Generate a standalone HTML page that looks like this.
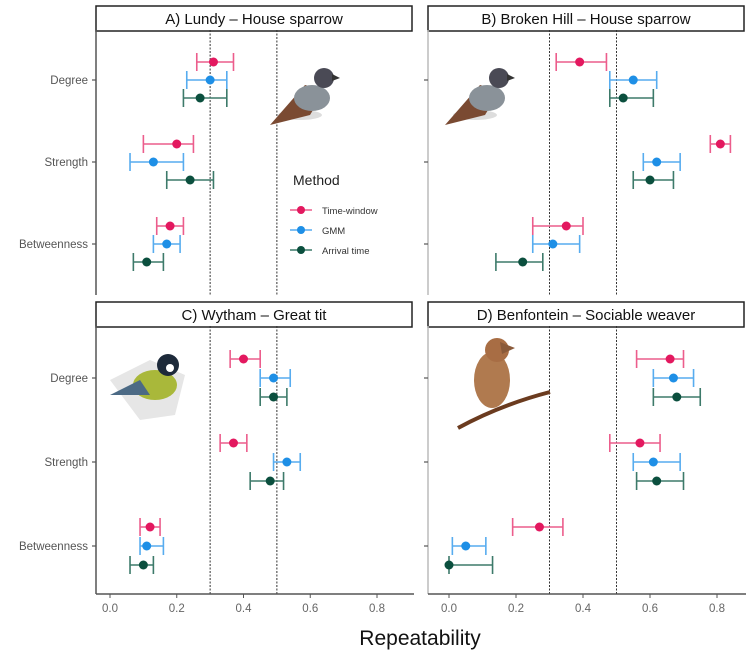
<!DOCTYPE html>
<html><head><meta charset="utf-8"><style>
body{margin:0;background:#fff;}
svg{display:block;font-family:"Liberation Sans",sans-serif;}
</style></head><body>
<svg id="chart" width="749" height="654"></svg>
<script>
const categories = ["Degree","Strength","Betweenness"];
const methods = ["Time-window","GMM","Arrival time"];
const panelTitles = ["A) Lundy \u2013 House sparrow","B) Broken Hill \u2013 House sparrow","C) Wytham \u2013 Great tit","D) Benfontein \u2013 Sociable weaver"];
const xTicks = [0,0.2,0.4,0.6,0.8];
const refLines = [0.3,0.5];
// per panel: [category][method] = [est, lo, hi]
const panelA = [[[0.31,0.26,0.37],[0.30,0.23,0.35],[0.27,0.22,0.35]],
                [[0.20,0.10,0.25],[0.13,0.06,0.22],[0.24,0.17,0.31]],
                [[0.18,0.14,0.22],[0.17,0.13,0.21],[0.11,0.07,0.16]]];
const panelB = [[[0.39,0.32,0.47],[0.55,0.48,0.62],[0.52,0.48,0.61]],
                [[0.81,0.78,0.84],[0.62,0.58,0.69],[0.60,0.55,0.67]],
                [[0.35,0.25,0.40],[0.31,0.25,0.39],[0.22,0.14,0.28]]];
const panelC = [[[0.40,0.36,0.45],[0.49,0.45,0.54],[0.49,0.45,0.53]],
                [[0.37,0.33,0.41],[0.53,0.49,0.57],[0.48,0.42,0.52]],
                [[0.12,0.09,0.15],[0.11,0.09,0.16],[0.10,0.06,0.13]]];
const panelD = [[[0.66,0.56,0.70],[0.67,0.61,0.73],[0.68,0.61,0.75]],
                [[0.57,0.48,0.63],[0.61,0.55,0.69],[0.62,0.56,0.70]],
                [[0.27,0.19,0.34],[0.05,0.01,0.11],[0.00,0.00,0.13]]];
const panelsData = [panelA,panelB,panelC,panelD];

const NS="http://www.w3.org/2000/svg";
const svg=document.getElementById('chart');
function mk(tag,attrs,parent){const e=document.createElementNS(NS,tag);for(const k in attrs)e.setAttribute(k,attrs[k]);(parent||svg).appendChild(e);return e;}
const ptCol=["#e3185f","#1e8fe6","#0b4f3e"];
const barCol=["#ec5d8c","#57acef","#3d7a6a"];
const layout=[
 {x0:110,x1:377,axisX:96,top:30,bottom:295,strip:[96,6,316,25],cy:[80,162,244],off:18,xaxis:false},
 {x0:449,x1:717,axisX:428,top:30,bottom:295,strip:[428,6,316,25],cy:[80,162,244],off:18,xaxis:false},
 {x0:110,x1:377,axisX:96,top:326,bottom:594,strip:[96,302,316,25],cy:[378,462,546],off:19,xaxis:true},
 {x0:449,x1:717,axisX:428,top:326,bottom:594,strip:[428,302,316,25],cy:[378,462,546],off:19,xaxis:true}];
const pnames=["panel-a","panel-b","panel-c","panel-d"];
layout.forEach((L,pi)=>{
  const g=mk('g',{});
  
  
  const xs=v=>L.x0+(L.x1-L.x0)*v/0.8;
  const s=L.strip;
  const st=mk('rect',{x:s[0],y:s[1],width:s[2],height:s[3],fill:'#fff',stroke:'#222','stroke-width':1.5},g);
  
  
  const tt=mk('text',{x:s[0]+s[2]/2,y:s[1]+18,'text-anchor':'middle','font-size':15,fill:'#111'},g);
  tt.textContent=panelTitles[pi];
  
  
  const ya=mk('line',{x1:L.axisX,x2:L.axisX,y1:L.top,y2:L.bottom,stroke:pi%2?'#bbb':'#555','stroke-width':1.5},g);
  
  
  categories.forEach((c,ci)=>{
    mk('line',{x1:L.axisX-4,x2:L.axisX,y1:L.cy[ci],y2:L.cy[ci],stroke:'#555','stroke-width':1.2},g);
    if(pi%2==0){const t=mk('text',{x:L.axisX-8,y:L.cy[ci]+4,'text-anchor':'end','font-size':11.5,fill:'#555'},g);t.textContent=c;
      
      }
  });
  refLines.forEach(r=>{const l=mk('line',{x1:xs(r),x2:xs(r),y1:L.top,y2:L.bottom,stroke:'#333','stroke-width':1,'stroke-dasharray':'2,1.5'},g);
    
    });
  if(L.xaxis){
    const xa=mk('line',{x1:L.axisX,x2:L.axisX+318,y1:L.bottom,y2:L.bottom,stroke:'#555','stroke-width':1.5},g);
    
    
    xTicks.forEach(v=>{mk('line',{x1:xs(v),x2:xs(v),y1:L.bottom,y2:L.bottom+4,stroke:'#555'},g);
      const t=mk('text',{x:xs(v),y:L.bottom+18,'text-anchor':'middle','font-size':11.5,fill:'#666'},g);t.textContent=v.toFixed(1);
      
      });
  }
  const d=panelsData[pi];
  categories.forEach((c,ci)=>{methods.forEach((m,mi)=>{
    const [e,lo,hi]=d[ci][mi];const y=L.cy[ci]+(mi-1)*L.off;
    const eb=mk('g',{stroke:barCol[mi],'stroke-width':1.6},g);
    
    
    mk('line',{x1:xs(lo),x2:xs(hi),y1:y,y2:y},eb);
    mk('line',{x1:xs(lo),x2:xs(lo),y1:y-9,y2:y+9},eb);
    mk('line',{x1:xs(hi),x2:xs(hi),y1:y-9,y2:y+9},eb);
    const p=mk('circle',{cx:xs(e),cy:y,r:4.5,fill:ptCol[mi]},g);
    
    
  });});
});
const lg=mk('g',{});


const lt=mk('text',{x:293,y:185,'font-size':14,fill:'#222'},lg);lt.textContent="Method";
methods.forEach((m,mi)=>{const y=210+mi*20;
  const le=mk('g',{},lg);
  
  
  mk('line',{x1:290,x2:312,y1:y,y2:y,stroke:barCol[mi],'stroke-width':1.6},le);
  mk('circle',{cx:301,cy:y,r:4,fill:ptCol[mi]},le);
  const t=mk('text',{x:322,y:y+4,'font-size':9.5,fill:'#333'},le);t.textContent=m;});
const xt=mk('text',{x:420,y:645,'text-anchor':'middle','font-size':21,fill:'#111'});xt.textContent="Repeatability";


function bird(x,y,sc,body,head,name){const g=mk('g',{transform:`translate(${x},${y}) scale(${sc})`});
  
  
  mk('ellipse',{cx:0,cy:45,rx:22,ry:5,fill:'#ddd'},g);
  mk('path',{d:'M-30,55 L5,15 L25,20 L10,45 Z',fill:body},g);
  mk('ellipse',{cx:12,cy:28,rx:18,ry:13,fill:'#8a9299'},g);
  mk('circle',{cx:24,cy:8,r:10,fill:head},g);
  mk('path',{d:'M32,4 L40,8 L32,11 Z',fill:'#333'},g);
  return g;}
bird(300,70,1,'#7a4a32','#4a4a55','bird-image-lundy');
bird(475,70,1,'#7a4a32','#4a4a55','bird-image-broken-hill');
const gt=mk('g',{});


mk('path',{d:'M110,380 L150,360 L185,375 L175,415 L140,420 Z',fill:'#e6e6e6'},gt);
mk('ellipse',{cx:155,cy:385,rx:22,ry:15,fill:'#a9b83a'},gt);
mk('path',{d:'M110,395 L140,380 L150,395 Z',fill:'#4c6a85'},gt);
mk('circle',{cx:168,cy:365,r:11,fill:'#1d2a3a'},gt);
mk('circle',{cx:170,cy:368,r:4,fill:'#fff'},gt);
const wv=mk('g',{});


mk('path',{d:'M458,428 Q500,405 550,392',stroke:'#6b3b1f','stroke-width':4,fill:'none'},wv);
mk('ellipse',{cx:492,cy:380,rx:18,ry:28,fill:'#b07a4f'},wv);
mk('circle',{cx:497,cy:350,r:12,fill:'#a86d44'},wv);
mk('path',{d:'M500,342 L515,348 L502,354 Z',fill:'#8a5a3a'},wv);
</script>
</body></html>
